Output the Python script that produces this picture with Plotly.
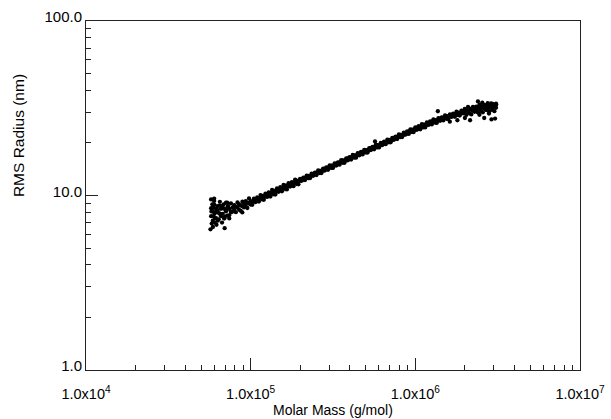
import plotly.graph_objects as go

# Molar mass (g/mol) sampled along the elution slice band
mass = [5.754e4, 5.888e4, 6.026e4, 6.166e4, 6.310e4, 6.457e4, 6.607e4, 6.761e4, 6.918e4, 7.079e4,
        7.244e4, 7.413e4, 7.586e4, 7.762e4, 7.943e4, 8.128e4, 8.318e4, 8.511e4, 8.710e4, 8.913e4,
        9.120e4, 9.333e4, 9.550e4, 9.772e4,
        1.000e5, 1.023e5, 1.047e5, 1.072e5, 1.096e5, 1.122e5, 1.148e5, 1.175e5, 1.202e5, 1.230e5,
        1.259e5, 1.288e5, 1.318e5, 1.349e5, 1.380e5, 1.413e5, 1.445e5, 1.479e5, 1.514e5, 1.549e5,
        1.585e5, 1.622e5, 1.660e5, 1.698e5, 1.738e5, 1.778e5, 1.820e5, 1.862e5, 1.905e5, 1.950e5,
        1.995e5, 2.042e5, 2.089e5, 2.138e5, 2.188e5, 2.239e5, 2.291e5, 2.344e5, 2.399e5, 2.455e5,
        2.512e5, 2.570e5, 2.630e5, 2.692e5, 2.754e5, 2.818e5, 2.884e5, 2.951e5, 3.020e5, 3.090e5,
        3.162e5, 3.236e5, 3.311e5, 3.388e5, 3.467e5, 3.548e5, 3.631e5, 3.715e5, 3.802e5, 3.890e5,
        3.981e5, 4.074e5, 4.169e5, 4.266e5, 4.365e5, 4.467e5, 4.571e5, 4.677e5, 4.786e5, 4.898e5,
        5.012e5, 5.129e5, 5.248e5, 5.370e5, 5.495e5, 5.623e5, 5.754e5, 5.888e5, 6.026e5, 6.166e5,
        6.310e5, 6.457e5, 6.607e5, 6.761e5, 6.918e5, 7.079e5, 7.244e5, 7.413e5, 7.586e5, 7.762e5,
        7.943e5, 8.128e5, 8.318e5, 8.511e5, 8.710e5, 8.913e5, 9.120e5, 9.333e5, 9.550e5, 9.772e5,
        1.000e6, 1.023e6, 1.047e6, 1.072e6, 1.096e6, 1.122e6, 1.148e6, 1.175e6, 1.202e6, 1.230e6,
        1.259e6, 1.288e6, 1.318e6, 1.349e6, 1.380e6, 1.413e6, 1.445e6, 1.479e6, 1.514e6, 1.549e6,
        1.585e6, 1.622e6, 1.660e6, 1.698e6, 1.738e6, 1.778e6, 1.820e6, 1.862e6, 1.905e6, 1.950e6,
        1.995e6, 2.042e6, 2.089e6, 2.138e6, 2.188e6, 2.239e6, 2.291e6, 2.344e6, 2.399e6, 2.455e6,
        2.512e6, 2.570e6, 2.630e6, 2.692e6, 2.754e6, 2.818e6, 2.884e6, 2.951e6, 3.020e6, 3.090e6]

# RMS radius (nm), two readings at each mass
radius_a = [8.46, 8.12, 8.83, 8.38, 8.14, 8.75, 8.39, 8.73, 8.38, 9.10, 8.65, 8.38, 9.02,
            8.56, 8.80, 8.63, 9.12, 8.88, 8.77, 9.21, 9.04, 9.28, 9.11, 9.62,
            9.28, 9.25, 9.59, 9.52, 9.74, 9.66, 10.05, 9.94, 9.89, 10.26, 10.19, 10.42, 10.33, 10.76, 10.63,
            10.60, 10.99, 10.90, 11.15, 11.06, 11.52, 11.38, 11.34, 11.76, 11.67, 11.93, 11.84, 12.33, 12.18, 12.13,
            12.45, 12.42, 12.65, 12.63, 13.01, 12.95, 12.96, 13.32, 13.29, 13.54, 13.51, 13.93, 13.85, 13.87,
            14.25, 14.23, 14.49, 14.46, 14.90, 14.83, 14.83, 15.25, 15.22, 15.50, 15.47, 15.95, 15.87, 15.88,
            16.32, 16.29, 16.58, 16.55, 17.06, 16.97, 16.99, 17.46, 17.43, 17.75, 17.72, 18.26, 18.17, 18.17,
            18.68, 18.65, 19.00, 18.95, 19.53, 19.44, 19.45, 19.99, 19.95, 20.32, 20.28, 20.90, 20.80, 20.81,
            21.39, 21.35, 21.74, 21.70, 22.37, 22.25, 22.28, 22.89, 22.84, 23.27, 23.22, 23.94, 23.81, 23.83,
            24.58, 24.46, 24.94, 24.83, 25.67, 25.47, 25.44, 26.22, 26.09, 26.61, 26.48, 27.33, 27.06, 26.98,
            27.75, 27.58, 28.07, 27.89, 28.78, 28.50, 28.41, 29.20, 28.99, 29.49, 29.28, 30.19, 29.88, 29.77,
            30.60, 30.39,
            31.36, 30.77, 32.19, 31.41, 30.99, 32.24, 31.64, 32.33, 31.73, 33.19, 32.38, 31.88, 33.08, 32.39,
            33.03, 32.33, 33.75, 32.86, 32.34, 33.57]

radius_b = [7.61, 7.17, 7.87, 7.42, 7.17, 7.88, 7.61, 7.85, 7.39, 8.11, 7.66, 7.39, 8.12,
            8.09, 8.27, 8.03, 8.52, 8.28, 8.16, 8.66, 8.54, 8.72, 8.48, 8.99,
            8.87, 8.84, 9.22, 9.18, 9.35, 9.23, 9.62, 9.50, 9.45, 9.86, 9.82, 10.01, 9.87, 10.29, 10.16,
            10.12, 10.55, 10.51, 10.71, 10.57, 11.02, 10.88, 10.83, 11.30, 11.25, 11.46, 11.31, 11.80, 11.64, 11.59,
            12.12, 12.13, 12.32, 12.25, 12.63, 12.57, 12.57, 12.97, 12.97, 13.18, 13.11, 13.52, 13.44, 13.46,
            13.88, 13.89, 14.10, 14.03, 14.47, 14.39, 14.39, 14.85, 14.85, 15.09, 15.01, 15.48, 15.40, 15.40,
            15.88, 15.90, 16.14, 16.06, 16.56, 16.47, 16.48, 17.00, 17.01, 17.28, 17.19, 17.73, 17.63, 17.63,
            18.19, 18.20, 18.49, 18.39, 18.96, 18.86, 18.87, 19.46, 19.47, 19.78, 19.68, 20.29, 20.18, 20.19,
            20.82, 20.84, 21.17, 21.05, 21.71, 21.59, 21.61, 22.29, 22.30, 22.65, 22.53, 23.24, 23.11, 23.12,
            23.82, 23.79, 24.17, 23.97, 24.80, 24.59, 24.55, 25.41, 25.37, 25.79, 25.56, 26.41, 26.13, 26.04,
            26.90, 26.81, 27.20, 26.92, 27.80, 27.52, 27.42, 28.30, 28.19, 28.58, 28.27, 29.17, 28.85, 28.74,
            29.66, 29.54,
            29.73, 28.95, 30.36, 29.57, 29.15, 30.57, 30.15, 30.65, 29.85, 31.30, 30.48, 29.98, 31.37, 30.87,
            31.31, 30.42, 31.83, 30.93, 30.41, 31.83]

# Scattered slices (noisy low-mass end, outliers, high-mass end)
mass_extra = [5.70e4, 5.75e4, 5.80e4, 5.85e4, 5.90e4, 5.95e4, 6.00e4, 6.05e4, 6.12e4, 6.20e4,
              6.30e4, 6.40e4, 6.50e4, 6.60e4, 6.70e4, 6.85e4, 7.00e4, 7.20e4, 7.40e4, 6.95e4,
              6.00e4, 8.90e4, 5.78e4, 5.92e4, 6.08e4, 6.25e4, 6.45e4, 6.65e4, 6.90e4, 7.10e4,
              7.30e4, 7.60e4,
              5.69e5, 1.37e6, 1.62e6, 1.80e6,
              2.40e6, 2.55e6, 2.75e6, 2.95e6, 3.10e6, 2.62e6, 2.90e6, 3.05e6, 2.45e6, 2.80e6,
              2.00e6, 2.15e6]
radius_extra = [6.4, 9.5, 6.9, 8.9, 6.6, 7.6, 9.3, 7.0, 8.0, 6.8,
                8.7, 7.3, 9.2, 7.8, 7.0, 8.9, 7.6, 9.1, 7.7, 6.5,
                9.6, 8.0, 8.1, 8.5, 7.4, 8.3, 7.9, 8.5, 7.4, 8.3,
                8.7, 8.0,
                20.4, 30.4, 26.5, 27.0,
                34.6, 34.0, 33.8, 33.5, 33.2, 27.8, 27.3, 27.6, 29.0, 29.5,
                27.8, 27.0]

x_tick_vals = [1e4, 1e5, 1e6, 1e7]
x_tick_text = ["1.0x10<sup>4</sup>", "1.0x10<sup>5</sup>", "1.0x10<sup>6</sup>", "1.0x10<sup>7</sup>"]
y_tick_vals = [1, 10, 100]
y_tick_text = ["1.0", "10.0", "100.0"]

x_minor = [m * 10 ** k for k in range(4, 7) for m in range(2, 10)]
y_minor = [m * 10 ** k for k in range(0, 2) for m in range(2, 10)]

all_x = mass + mass + mass_extra
all_y = radius_a + radius_b + radius_extra

FONT = "Arial, Liberation Sans, Helvetica, sans-serif"
AX = "#222222"

fig = go.Figure()
fig.add_trace(go.Scatter(
    x=all_x, y=all_y, mode="markers",
    marker=dict(color="black", size=4.3, line=dict(width=0)),
    showlegend=False, hoverinfo="x+y"))

fig.update_layout(
    width=611, height=419,
    margin=dict(l=86, r=31, t=21, b=49, autoexpand=False),
    paper_bgcolor="white", plot_bgcolor="white",
    font=dict(family=FONT, size=14, color="black"),
    showlegend=False,
)

fig.update_xaxes(
    type="log", range=[4, 7], automargin=False,
    tickmode="array", tickvals=x_tick_vals, ticktext=x_tick_text,
    ticks="inside", ticklen=12, tickwidth=1, tickcolor=AX,
    minor=dict(tickmode="array", tickvals=x_minor, ticks="inside", ticklen=5,
               tickwidth=1, tickcolor=AX, showgrid=False),
    showline=True, linecolor=AX, linewidth=1, mirror=True,
    showgrid=False, zeroline=False,
    tickfont=dict(family=FONT, size=14.5, color="black"),
    ticklabelstandoff=11,
)
fig.update_yaxes(
    type="log", range=[0, 2], automargin=False,
    tickmode="array", tickvals=y_tick_vals, ticktext=y_tick_text,
    ticks="inside", ticklen=12, tickwidth=1, tickcolor=AX,
    minor=dict(tickmode="array", tickvals=y_minor, ticks="inside", ticklen=5,
               tickwidth=1, tickcolor=AX, showgrid=False),
    showline=True, linecolor=AX, linewidth=1, mirror=True,
    showgrid=False, zeroline=False,
    tickfont=dict(family=FONT, size=15, color="black"),
    ticklabelshift=-4, ticklabelstandoff=0,
)

fig.add_annotation(text="Molar Mass (g/mol)", xref="paper", yref="paper",
                   x=0.5, y=-0.115, xanchor="center", yanchor="middle",
                   showarrow=False, font=dict(family=FONT, size=14, color="black"))
fig.add_annotation(text="RMS Radius (nm)", xref="paper", yref="paper",
                   x=-0.1377, y=0.673, xanchor="center", yanchor="middle", textangle=-90,
                   showarrow=False, font=dict(family=FONT, size=15.5, color="black"))

fig.write_html(
    "out.html",
    config={"displayModeBar": False},
    post_script="document.body.style.margin='0';document.body.style.padding='0';"
                "document.body.style.overflow='hidden';",
)
